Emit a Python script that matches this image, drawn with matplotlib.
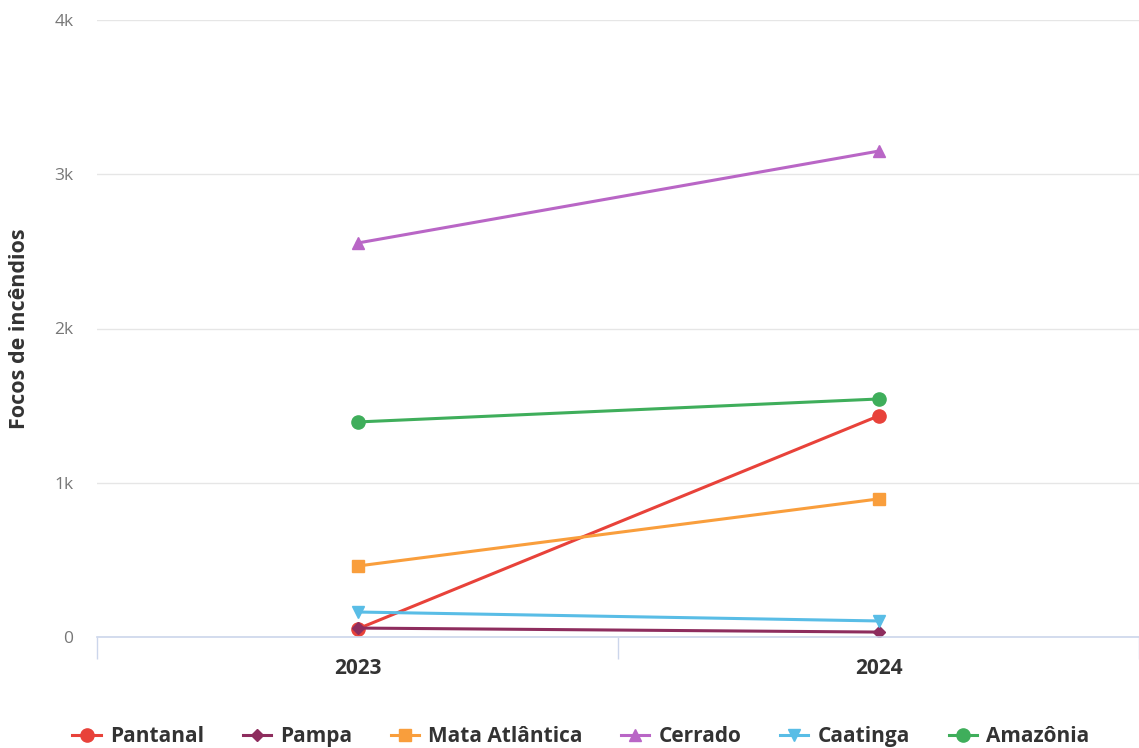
import os
import numpy as np
import matplotlib.pyplot as plt
from matplotlib import font_manager
from matplotlib.ticker import FixedLocator

plt.rcParams['font.family'] = ['Open Sans', 'DejaVu Sans']

# procura o arquivo do Open Sans Bold (sem a versão condensada)
bold_file = None
for f in font_manager.findSystemFonts():
    nome = os.path.basename(f).lower().replace(' ', '').replace('-', '').replace('_', '')
    if 'opensans' in nome and 'bold' in nome and not any(
            k in nome for k in ['condensed', 'semi', 'extra', 'italic', 'semicond']):
        bold_file = f
        break


def negrito(size):
    if bold_file:
        return font_manager.FontProperties(fname=bold_file, size=size)
    return font_manager.FontProperties(family=['Noto Sans', 'DejaVu Sans'], weight='bold', size=size)


anos = ['2023', '2024']
biomas = ['Pantanal', 'Pampa', 'Mata Atlântica', 'Cerrado', 'Caatinga', 'Amazônia']
pantanal = [52, 1433]
pampa = [58, 32]
mata_atlantica = [460, 895]
cerrado = [2554, 3150]
caatinga = [162, 104]
amazonia = [1394, 1543]

series = [pantanal, pampa, mata_atlantica, cerrado, caatinga, amazonia]
cores = ['#e8423a', '#8e2d5e', '#f99e3c', '#b966c6', '#59bde6', '#3fae5b']
marcadores = ['o', 'D', 's', '^', 'v', 'o']
tamanhos = [9.5, 6, 9, 9, 9, 9.5]

fig = plt.figure(figsize=(11.39, 7.48), dpi=100)
ax = fig.add_axes([97 / 1139, 1 - 637 / 748, 1 - 97 / 1139, (637 - 20) / 748])

x = np.arange(len(anos))
for nome, vals, cor, m, ms in zip(biomas, series, cores, marcadores, tamanhos):
    ax.plot(x, vals, color=cor, marker=m, markersize=ms, linewidth=2.2, label=nome)

ax.set_xlim(-0.5, 1.5)
ax.set_ylim(0, 4000)
ax.set_yticks([0, 1000, 2000, 3000, 4000])
ax.set_yticklabels(['0', '1k', '2k', '3k', '4k'], color='#777777', fontsize=12.5)
ax.set_xticks(x)
ax.set_xticklabels(anos, fontproperties=negrito(15), color='#333333')
ax.tick_params(axis='x', length=0, pad=15)
ax.tick_params(axis='y', length=0, pad=17)
ax.xaxis.set_minor_locator(FixedLocator([-0.5, 0.5, 1.5]))
ax.tick_params(axis='x', which='minor', length=16, color='#ccd6eb', width=1)

ax.grid(axis='y', color='#e6e6e6', linewidth=1)
ax.set_axisbelow(True)
for s in ['top', 'right', 'left']:
    ax.spines[s].set_visible(False)
ax.spines['bottom'].set_color('#ccd6eb')
ax.spines['bottom'].set_linewidth(1.2)

ax.set_ylabel('Focos de incêndios', fontproperties=negrito(15.5), color='#333333')
ax.yaxis.set_label_coords(-0.064, 0.5)

leg = fig.legend(loc='lower center', bbox_to_anchor=(0.51, -0.024), ncol=6, frameon=False,
                 prop=negrito(15), handlelength=1.35, columnspacing=1.85, handletextpad=0.45)
for t in leg.get_texts():
    t.set_color('#333333')

fig.savefig('out.png', dpi=100)
